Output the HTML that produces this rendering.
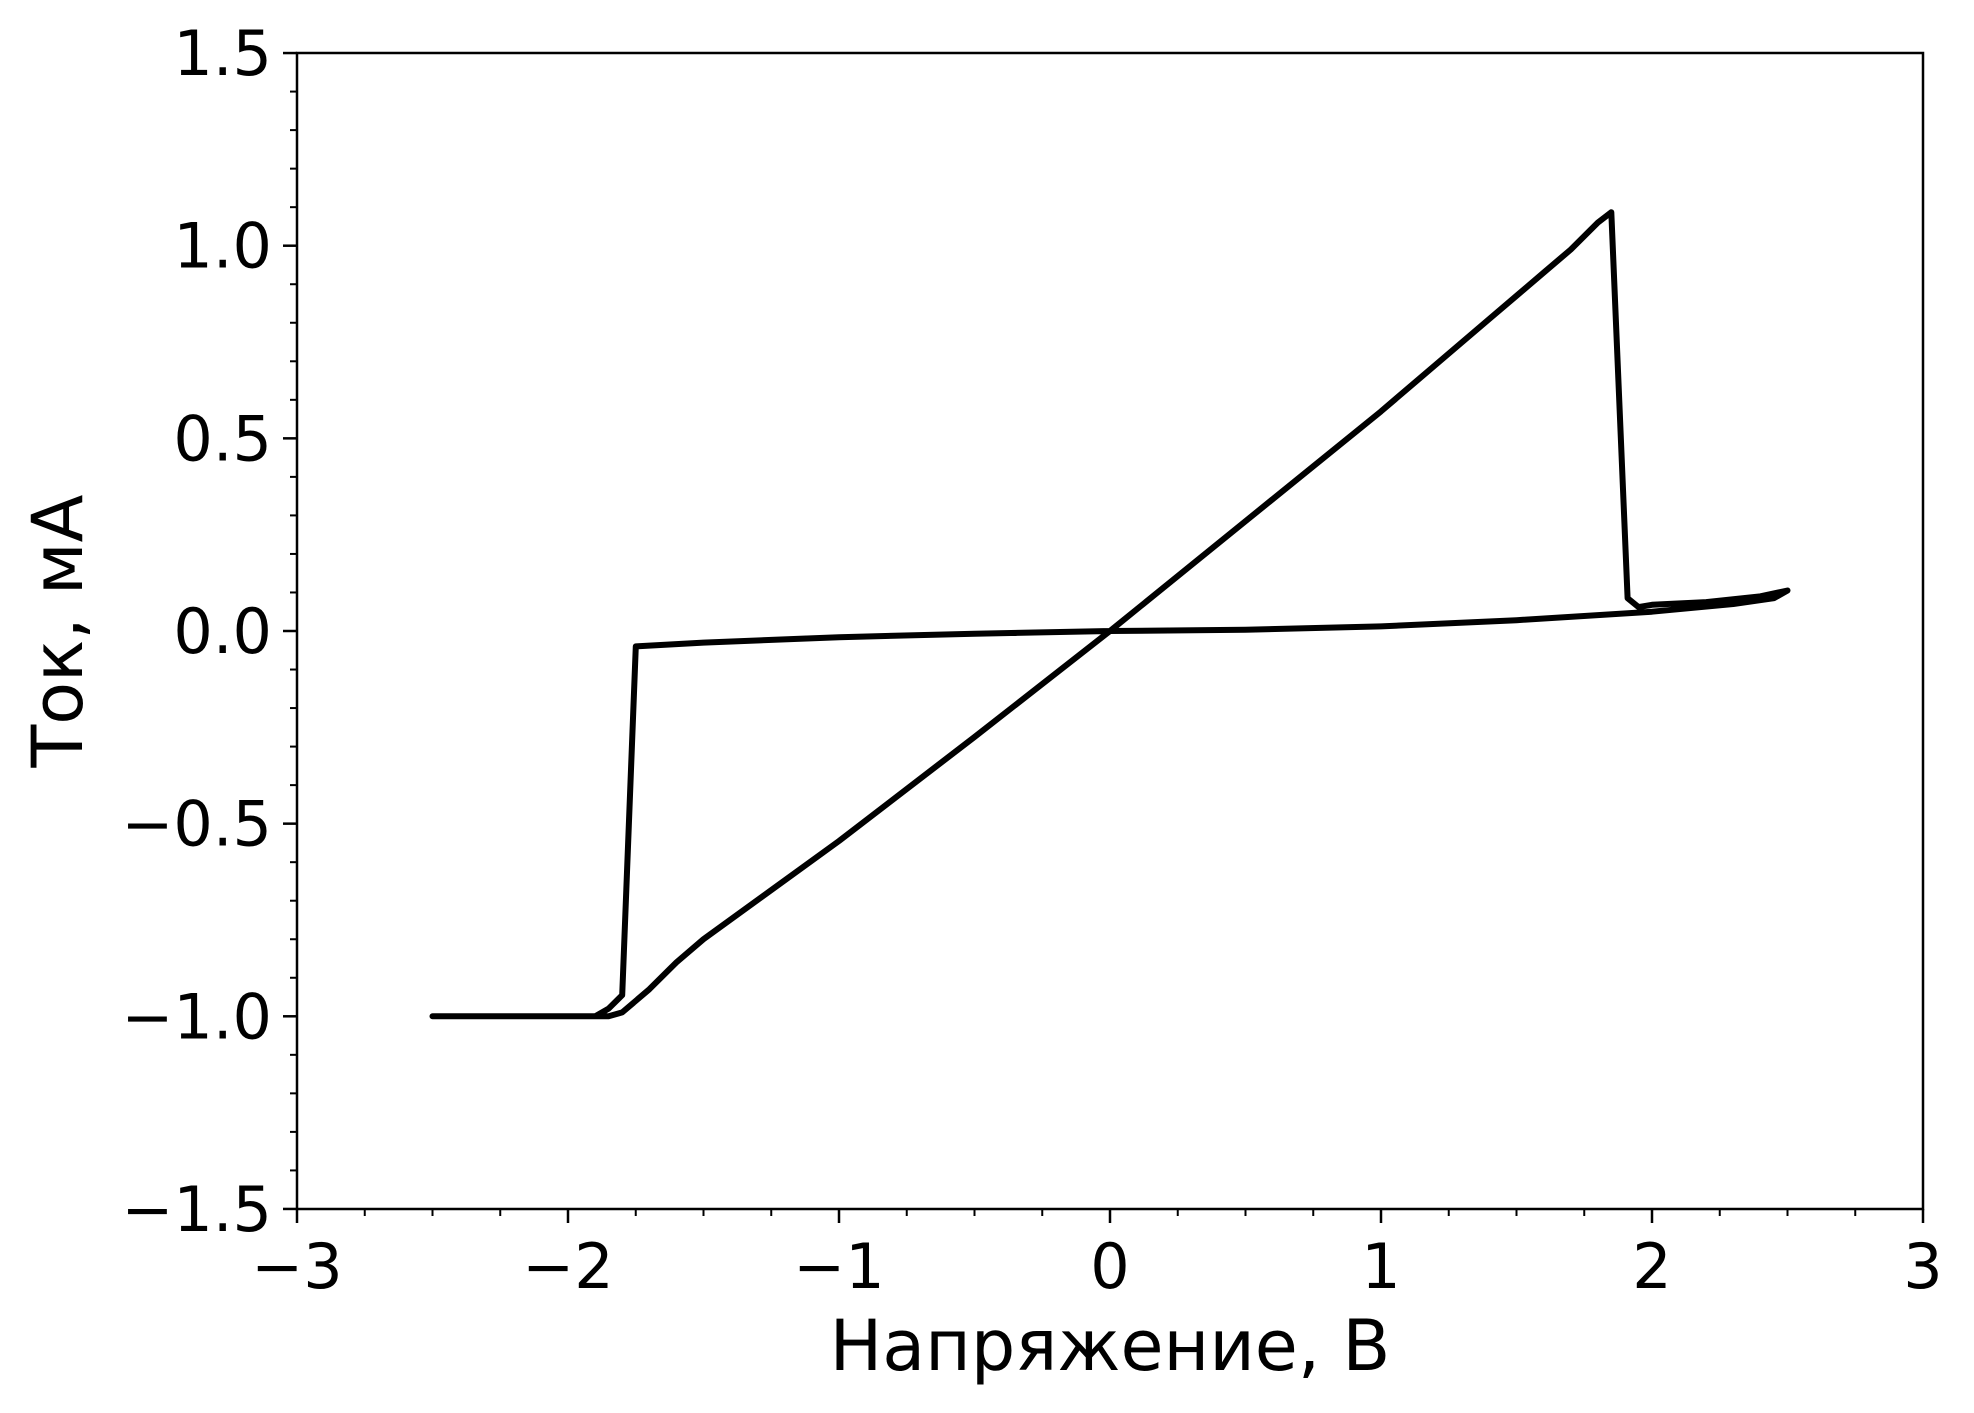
<!DOCTYPE html>
<html><head><meta charset="utf-8"><style>
body{margin:0;background:#fff}
svg{display:block}
text{font-family:"DejaVu Sans","Liberation Sans",sans-serif;fill:#000}
</style></head><body>
<svg id="chart" width="1974" height="1413">
<g id="ticks"></g>
<g id="plot"></g>
<rect x="297" y="53" width="1626" height="1156" fill="none" stroke="#000" stroke-width="2.5"/>
<text x="1110" y="1370" font-size="70" text-anchor="middle">Напряжение, В</text>
<text transform="translate(82,631) rotate(-90)" font-size="70" text-anchor="middle">Ток, мА</text>
</svg>
<script>
const xTicks=[-3,-2,-1,0,1,2,3];
const xTickLabels=["−3","−2","−1","0","1","2","3"];
const yTicks=[-1.5,-1.0,-0.5,0.0,0.5,1.0,1.5];
const yTickLabels=["−1.5","−1.0","−0.5","0.0","0.5","1.0","1.5"];
const voltage=[-2.5,-1.9,-1.85,-1.8,-1.75,-1.5,-1.0,-0.5,0,0.5,1.0,1.5,2.0,2.3,2.45,2.5,2.4,2.2,2.0,1.95,1.91,1.85,1.8,1.7,1.6,1.5,1.4,1.2,1.0,0.5,0,-0.5,-1.0,-1.5,-1.6,-1.7,-1.8,-1.85,-2.5];
const current=[-1.0,-1.0,-0.98,-0.945,-0.04,-0.03,-0.016,-0.007,0,0.003,0.012,0.028,0.05,0.07,0.085,0.105,0.09,0.075,0.068,0.062,0.085,1.087,1.06,0.99,0.93,0.87,0.81,0.69,0.57,0.285,0,-0.275,-0.545,-0.8,-0.86,-0.93,-0.99,-1.0,-1.0];
const X=v=>297+(v+3)*271;
const Y=v=>631-v*385.3;
const NS="http://www.w3.org/2000/svg";
const tg=document.getElementById('ticks');
function mk(t,a,p){const e=document.createElementNS(NS,t);for(const k in a)e.setAttribute(k,a[k]);p.appendChild(e);return e;}
xTicks.forEach((t,i)=>{
 const l=mk('line',{x1:X(t),x2:X(t),y1:1209,y2:1223,stroke:'#000','stroke-width':2.5},tg);
 
 
 const tx=mk('text',{x:X(t),y:1288,'font-size':62,'text-anchor':'middle'},tg);
 tx.textContent=xTickLabels[i];
 
 
});
for(let v=-3;v<=3.001;v+=0.25){ if(Math.abs(v-Math.round(v))<0.01)continue;
 const l=mk('line',{x1:X(v),x2:X(v),y1:1209,y2:1216,stroke:'#000','stroke-width':2},tg);
 
 }
yTicks.forEach((t,i)=>{
 const l=mk('line',{x1:283,x2:297,y1:Y(t),y2:Y(t),stroke:'#000','stroke-width':2.5},tg);
 
 
 const tx=mk('text',{x:272,y:Y(t)+22,'font-size':62,'text-anchor':'end'},tg);
 tx.textContent=yTickLabels[i];
 
 
});
for(let k=0;k<=30;k++){const v=-1.5+k*0.1; if(k%5===0)continue;
 const l=mk('line',{x1:290,x2:297,y1:Y(v),y2:Y(v),stroke:'#000','stroke-width':2},tg);
 
 }
const pts=voltage.map((v,i)=>X(v).toFixed(1)+','+Y(current[i]).toFixed(1)).join(' ');
const pl=mk('polyline',{points:pts,fill:'none',stroke:'#000','stroke-width':6,'stroke-linejoin':'round','stroke-linecap':'round'},document.getElementById('plot'));


</script>
</body></html>
